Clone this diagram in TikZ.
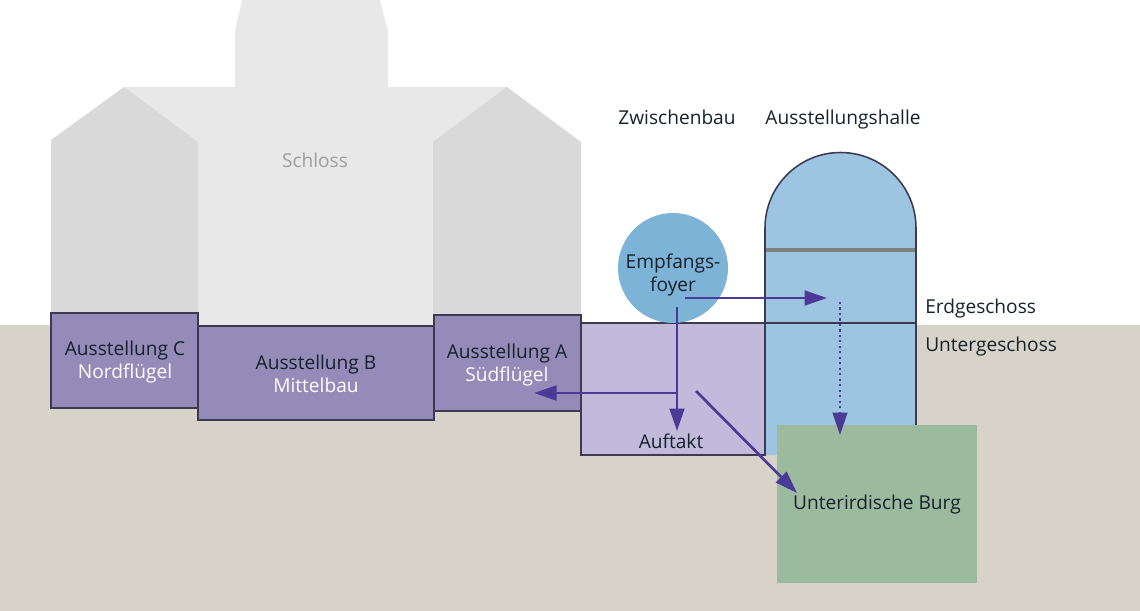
\documentclass[tikz,border=0pt]{standalone}
\usepackage{fontspec}
\setmainfont{Open Sans}
\usetikzlibrary{arrows.meta}

\definecolor{ground}{HTML}{D7D3C8}
\definecolor{wing}{HTML}{D9D9D9}
\definecolor{body}{HTML}{E8E8E8}
\definecolor{exhib}{HTML}{958BB8}
\definecolor{auftakt}{HTML}{C1BADB}
\definecolor{hall}{HTML}{9DC4E0}
\definecolor{foyer}{HTML}{7DB3D7}
\definecolor{burg}{HTML}{9CBB9E}
\definecolor{route}{HTML}{4A3B97}
\definecolor{edge}{HTML}{3B3A50}
\definecolor{ink}{HTML}{16212B}

\begin{document}
\begin{tikzpicture}[x=0.025cm, y=-0.025cm,
    lbl/.style={font=\fontsize{13.6}{16.4}\selectfont, text=ink, align=center, inner sep=0pt},
    box/.style={draw=edge, line width=1.1pt},
    walk/.style={draw=route, line width=1.9pt, -{Triangle[length=16pt, width=10.5pt]}}]

    \useasboundingbox (0,0) rectangle (1140,611);

    % ground
    \fill[ground] (0,325) rectangle (1140,611);

    % castle: tower, middle part, wings
    \fill[body] (242,0) -- (380,0) -- (388,31) -- (388,100) -- (235,100) -- (235,31) -- cycle;
    \fill[body] (124,87) rectangle (507,330);
    \fill[wing] (51,330) -- (51,140) -- (124,87) -- (198,142) -- (198,330) -- cycle;
    \fill[wing] (433,330) -- (433,142) -- (507,87) -- (581,142) -- (581,330) -- cycle;
    \node[lbl, text=black!38] (schloss) at (315,168) [anchor=base] {Schloss};

    % exhibitions in the castle
    \draw[box, fill=exhib] (51,313) rectangle (198,408);
    \draw[box, fill=exhib] (198,326) rectangle (434,420);
    \draw[box, fill=exhib] (434,315) rectangle (581,411);
    \node[lbl] (ausC) at (125,362) {Ausstellung C\\\textcolor{white}{Nordflügel}};
    \node[lbl] (ausB) at (316,374) {Ausstellung B\\\textcolor{white}{Mittelbau}};
    \node[lbl] (ausA) at (507,365) {Ausstellung A\\\textcolor{white}{Südflügel}};

    % intermediate building
    \draw[box, fill=auftakt] (581,323) rectangle (765,455);
    \node[lbl, anchor=base] (auftakt) at (671,448) {Auftakt};

    % exhibition hall
    \draw[box, fill=hall] (765,455) -- (765,228) arc[start angle=180, end angle=360, radius=75.5] -- (916,455);
    \draw[line width=2.6pt, black!50] (766,250) -- (915,250);
    \draw[box] (765,323) -- (916,323);

    % underground castle
    \fill[burg] (777,425) rectangle (977,583);
    \node[lbl, anchor=base] (burg) at (877,509) {Unterirdische Burg};

    % foyer
    \fill[foyer] (673,268) circle[radius=55];
    \node[lbl] (foyer) at (673,275) {Empfangs-\\foyer};

    % headings and levels
    \node[lbl, anchor=base] (zwischen) at (677,125) {Zwischenbau};
    \node[lbl, anchor=base] (halle) at (843,125) {Ausstellungshalle};
    \node[lbl, anchor=base west] (eg) at (925,313) {Erdgeschoss};
    \node[lbl, anchor=base west] (ug) at (925,351) {Untergeschoss};

    % route
    \coordinate (foyerE) at (685,298);
    \coordinate (hallE) at (827,298);
    \coordinate (hallD) at (840,302);
    \coordinate (burgN) at (840,435);
    \coordinate (foyerS) at (677,307);
    \coordinate (auftaktS) at (677,431);
    \coordinate (branch) at (677,393);
    \coordinate (ausAE) at (534,393);
    \coordinate (auftaktD) at (696,391);
    \coordinate (burgW) at (797,493);

    \draw[walk] (foyerE) -- (hallE);
    \draw[walk, line width=1.5pt, dash pattern=on 1.5pt off 2.4pt] (hallD) -- (burgN);
    \draw[walk] (foyerS) -- (auftaktS);
    \draw[walk] (branch) -- (ausAE);
    \draw[walk] (auftaktD) -- (burgW);

\end{tikzpicture}
\end{document}
